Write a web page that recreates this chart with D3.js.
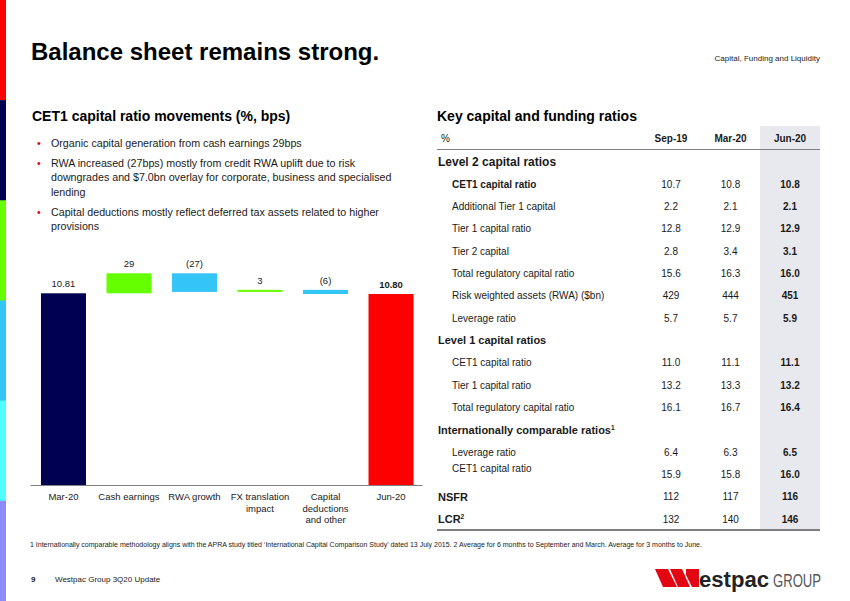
<!DOCTYPE html>
<html>
<head>
<meta charset="utf-8">
<script src="https://cdn.jsdelivr.net/npm/d3@7"></script>
<style>
  html, body { margin: 0; padding: 0; background: #fff; }
  svg { display: block; font-family: "Liberation Sans", Arial, sans-serif; }
</style>
</head>
<body>
<svg id="chart" width="850" height="601"></svg>
<script>
// ---------- Waterfall data ----------
const categories = ["Mar-20", "Cash earnings", "RWA growth", "FX translation impact", "Capital deductions and other", "Jun-20"];
const categoryLines = [["Mar-20"], ["Cash earnings"], ["RWA growth"], ["FX translation", "impact"], ["Capital", "deductions", "and other"], ["Jun-20"]];
const waterfallValues = [10.81, 0.29, -0.27, 0.03, -0.06, 10.80];
const waterfallKinds = ["total", "delta", "delta", "delta", "delta", "total"];
const valueLabels = ["10.81", "29", "(27)", "3", "(6)", "10.80"];

// ---------- Bullets ----------
const bullets = [
  ["Organic capital generation from cash earnings 29bps"],
  ["RWA increased (27bps) mostly from credit RWA uplift due to risk", "downgrades and $7.0bn overlay for corporate, business and specialised", "lending"],
  ["Capital deductions mostly reflect deferred tax assets related to higher", "provisions"]
];

// ---------- Table data ----------
const tableColumns = ["Sep-19", "Mar-20", "Jun-20"];
const rowLabels = [
  "Level 2 capital ratios", "CET1 capital ratio", "Additional Tier 1 capital", "Tier 1 capital ratio",
  "Tier 2 capital", "Total regulatory capital ratio", "Risk weighted assets (RWA) ($bn)", "Leverage ratio",
  "Level 1 capital ratios", "CET1 capital ratio", "Tier 1 capital ratio", "Total regulatory capital ratio",
  "Internationally comparable ratios", "Leverage ratio", "CET1 capital ratio", "NSFR", "LCR"
];
const rowKinds = ["group", "bold", "item", "item", "item", "item", "item", "item",
  "group", "item", "item", "item", "group", "item", "item", "main", "main"];
const rowSuperscripts = ["", "", "", "", "", "", "", "", "", "", "", "", "1", "", "", "", "2"];
const sep19Values = ["", "10.7", "2.2", "12.8", "2.8", "15.6", "429", "5.7", "", "11.0", "13.2", "16.1", "", "6.4", "15.9", "112", "132"];
const mar20Values = ["", "10.8", "2.1", "12.9", "3.4", "16.3", "444", "5.7", "", "11.1", "13.3", "16.7", "", "6.3", "15.8", "117", "140"];
const jun20Values = ["", "10.8", "2.1", "12.9", "3.1", "16.0", "451", "5.9", "", "11.1", "13.2", "16.4", "", "6.5", "16.0", "116", "146"];

// ---------- Side strip ----------
const stripColors = ["#ff0000", "#000050", "#66ff00", "#33c5f5", "#4dffff", "#8c8cff"];

const svg = d3.select("#chart");
const TXT = "#1a1a1a";

// side strip
const stripScale = d3.scaleBand().domain(d3.range(stripColors.length)).range([0, 601]);
svg.selectAll("rect.strip").data(stripColors).join("rect")
  .attr("x", 0).attr("y", (d, i) => stripScale(i)).attr("width", 6).attr("height", stripScale.bandwidth() + 0.5)
  .attr("fill", d => d);

// title
svg.append("text").attr("x", 31).attr("y", 60).attr("font-size", 24).attr("font-weight", "bold")
  .attr("fill", "#000").text("Balance sheet remains strong.");
svg.append("text").attr("x", 820).attr("y", 61).attr("font-size", 8).attr("text-anchor", "end")
  .attr("fill", TXT).text("Capital, Funding and Liquidity");

// section titles
svg.append("text").attr("x", 32).attr("y", 121).attr("font-size", 14).attr("font-weight", "bold")
  .attr("fill", "#000").text("CET1 capital ratio movements (%, bps)");
svg.append("text").attr("x", 437).attr("y", 121).attr("font-size", 14).attr("font-weight", "bold")
  .attr("fill", "#000").text("Key capital and funding ratios");

// bullets
let by = 147;
bullets.forEach(lines => {
  svg.append("text").attr("x", 37).attr("y", by).attr("font-size", 10.7).attr("fill", "#e00000").text("•");
  const t = svg.append("text").attr("x", 51).attr("y", by).attr("font-size", 10.7).attr("fill", TXT);
  lines.forEach((l, i) => t.append("tspan").attr("x", 51).attr("dy", i === 0 ? 0 : 14.3).text(l));
  by += (lines.length - 1) * 14.3 + 20;
});

// ---------- Waterfall ----------
const x = d3.scaleBand().domain(categories).range([30.75, 423.75]).paddingInner(0.313).paddingOuter(0.156);
const y = d3.scaleLinear().domain([8.03, 11.10]).range([485, 273.3]);

let running = 0;
const bars = waterfallValues.map((v, i) => {
  let y0, y1;
  if (waterfallKinds[i] === "total") { y0 = y.domain()[0]; y1 = v; running = v; }
  else { y0 = running; y1 = running + v; running = y1; }
  return { cat: categories[i], lo: Math.min(y0, y1), hi: Math.max(y0, y1), v, kind: waterfallKinds[i], label: valueLabels[i], i };
});
const barColor = d => d.kind === "total" ? (d.i === 0 ? "#000050" : "#ff0000") : (d.v >= 0 ? "#66ff00" : "#33c5f5");

svg.selectAll("rect.bar").data(bars).join("rect")
  .attr("class", "bar")
  .attr("x", d => x(d.cat)).attr("width", x.bandwidth())
  .attr("y", d => y(d.hi)).attr("height", d => Math.max(2, y(d.lo) - y(d.hi)))
  .attr("fill", barColor);

svg.selectAll("text.vlabel").data(bars).join("text")
  .attr("class", "vlabel")
  .attr("x", d => x(d.cat) + x.bandwidth() / 2).attr("y", d => y(d.hi) - 6)
  .attr("text-anchor", "middle").attr("font-size", 9.5)
  .attr("font-weight", d => d.i === bars.length - 1 ? "bold" : "normal")
  .attr("fill", TXT).text(d => d.label);

// axis
const xAxis = d3.axisBottom(x).tickSize(0).tickFormat("");
const ag = svg.append("g").attr("transform", "translate(0,485)").call(xAxis);
ag.select(".domain").attr("stroke", "#808080").attr("stroke-width", 1).attr("d", "M30.5,0.5H422.5");

categories.forEach((c, i) => {
  const t = svg.append("text").attr("x", x(c) + x.bandwidth() / 2).attr("y", 500.3)
    .attr("text-anchor", "middle").attr("font-size", 9.5).attr("fill", TXT);
  categoryLines[i].forEach((l, j) => t.append("tspan").attr("x", x(c) + x.bandwidth() / 2).attr("dy", j === 0 ? 0 : 11.5).text(l));
});

// ---------- Table ----------
const colX = d3.scalePoint().domain(tableColumns).range([671, 790]);
const rowY = d3.scaleLinear().domain([0, rowLabels.length - 1]).range([161.7, 519.3]);

// shaded column
svg.append("rect").attr("x", 760).attr("y", 126).attr("width", 60).attr("height", 404).attr("fill", "#e8e8ef");

// header
svg.append("text").attr("x", 441).attr("y", 141.8).attr("font-size", 10).attr("fill", TXT).text("%");
tableColumns.forEach(c => {
  svg.append("text").attr("x", colX(c)).attr("y", 141.8).attr("text-anchor", "middle")
    .attr("font-size", 10).attr("font-weight", "bold").attr("fill", TXT).text(c);
});
svg.append("line").attr("x1", 437).attr("x2", 820).attr("y1", 149.5).attr("y2", 149.5)
  .attr("stroke", "#7f7f7f").attr("stroke-width", 1.2);
svg.append("line").attr("x1", 437).attr("x2", 820).attr("y1", 530).attr("y2", 530)
  .attr("stroke", "#7f7f7f").attr("stroke-width", 2);

rowLabels.forEach((lab, i) => {
  const kind = rowKinds[i];
  const cy = rowY(i);
  let fs, fw, lx;
  if (kind === "group") { fs = (i === 0 ? 12 : 11); fw = "bold"; lx = 438; }
  else if (kind === "main") { fs = 11; fw = "bold"; lx = 438; }
  else { fs = 10; fw = kind === "bold" ? "bold" : "normal"; lx = 452; }
  // the intl CET1 label sits higher than its values in the original
  const labelShift = (i === 14) ? -6.5 : 0;
  const t = svg.append("text").attr("x", lx).attr("y", cy + fs * 0.35 + labelShift)
    .attr("font-size", fs).attr("font-weight", fw).attr("fill", TXT).text(lab);
  if (rowSuperscripts[i]) {
    t.append("tspan").attr("dy", -4).attr("font-size", fs * 0.6).text(rowSuperscripts[i]);
  }
  [[sep19Values, "Sep-19", "normal"], [mar20Values, "Mar-20", "normal"], [jun20Values, "Jun-20", "bold"]].forEach(([arr, col, w]) => {
    if (arr[i] === "") return;
    svg.append("text").attr("x", colX(col)).attr("y", cy + 3.5).attr("text-anchor", "middle")
      .attr("font-size", 10).attr("font-weight", w).attr("fill", TXT).text(arr[i]);
  });
});

// footnote
svg.append("text").attr("x", 30).attr("y", 547).attr("font-size", 7).attr("fill", TXT)
  .text("1 Internationally comparable methodology aligns with the APRA study titled ‘International Capital Comparison Study’ dated 13 July 2015. 2 Average for 6 months to September and March. Average for 3 months to June.");

// footer
svg.append("text").attr("x", 31).attr("y", 582).attr("font-size", 8).attr("font-weight", "bold").attr("fill", TXT).text("9");
svg.append("text").attr("x", 55).attr("y", 582).attr("font-size", 8).attr("fill", TXT).text("Westpac Group 3Q20 Update");

// logo
const logo = svg.append("g");
logo.append("path").attr("fill", "#e30613").attr("d", "M655,569 L668,569 L677,587 L663,587 Z");
logo.append("path").attr("fill", "#e30613").attr("d", "M670,569 L682,569 L690,587 L678,587 Z");
logo.append("path").attr("fill", "#e30613").attr("d", "M686,569 L699,569 L699,587 L692,587 L686,575 Z");
logo.append("text").attr("x", 699).attr("y", 587).attr("font-size", 22).attr("font-weight", "bold")
  .attr("fill", "#222").attr("textLength", 70).attr("lengthAdjust", "spacingAndGlyphs").text("estpac");
logo.append("text").attr("x", 773).attr("y", 587).attr("font-size", 18).attr("fill", "#555")
  .attr("textLength", 48).attr("lengthAdjust", "spacingAndGlyphs").text("GROUP");
</script>
</body>
</html>
